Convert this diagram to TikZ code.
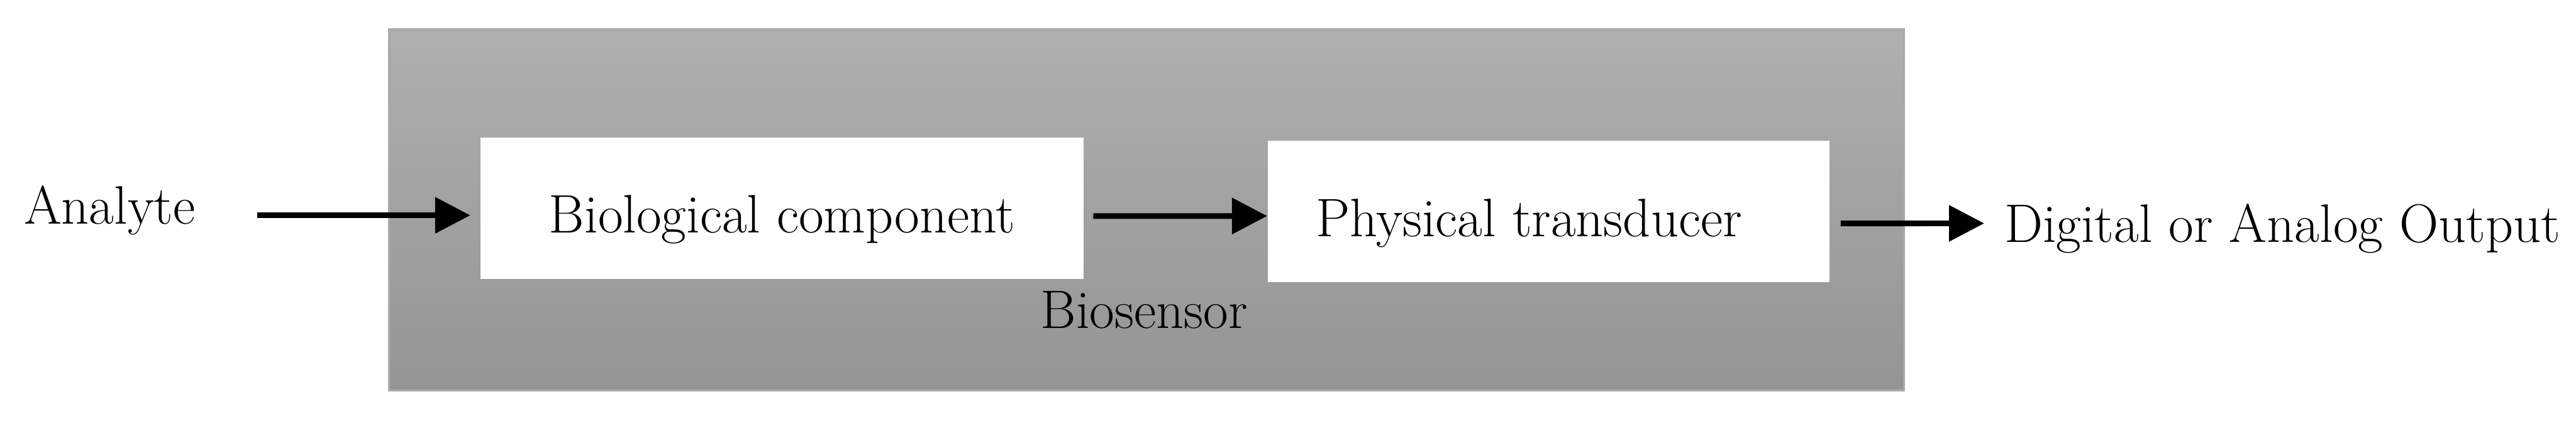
\documentclass[tikz,border=0pt]{standalone}
\usetikzlibrary{arrows.meta}
\definecolor{sensortop}{RGB}{175,175,175}
\definecolor{sensorbot}{RGB}{148,148,148}
\definecolor{sensoredge}{RGB}{168,168,168}
\begin{document}
\begin{tikzpicture}[
    sensor/.style={rectangle, draw=sensoredge, line width=1pt, top color=sensortop, bottom color=sensorbot, minimum width=24.52cm, minimum height=5.85cm},
    block/.style={rectangle, fill=white, minimum height=2.29cm, text height=0.96cm, text depth=0.16cm, font=\fontsize{25}{29}\selectfont},
    label/.style={inner sep=0pt, font=\fontsize{25}{29}\selectfont},
    arrow/.style={-{Triangle[length=0.57cm, width=0.57cm]}, line width=2.6pt, black},
]
\useasboundingbox (0,0) rectangle (41.70,6.90);
% Biosensor housing
\node[sensor] (sensor) at (18.56,3.495) {};
\node[label, anchor=base] (biosensor) at (18.52,1.58) {Biosensor};
% Inner blocks
\node[block, minimum width=9.76cm] (bio) at (12.66,3.525) {Biological component};
\node[block, minimum width=9.10cm] (phys) at (25.07,3.47) {Physical transducer\hspace*{0.64cm}};
% Input and output
\node[label, anchor=base west] (analyte) at (0.38,3.27) {Analyte};
\node[label, anchor=base west] (output) at (32.44,2.98) {Digital or Analog Output};

% Arrows
\draw[arrow, shorten <=1.0cm, shorten >=0.16cm] ([yshift=-0.08cm]analyte.east) -- ([yshift=-0.08cm]analyte.east -| bio.west);
\draw[arrow] ([xshift=0.15cm,yshift=-0.125cm]bio.east) -- ([yshift=-0.07cm]phys.west);
\draw[arrow] ([xshift=0.17cm,yshift=-0.19cm]phys.east) -- ([xshift=-0.32cm,yshift=0.08cm]output.west);
\end{tikzpicture}
\end{document}
